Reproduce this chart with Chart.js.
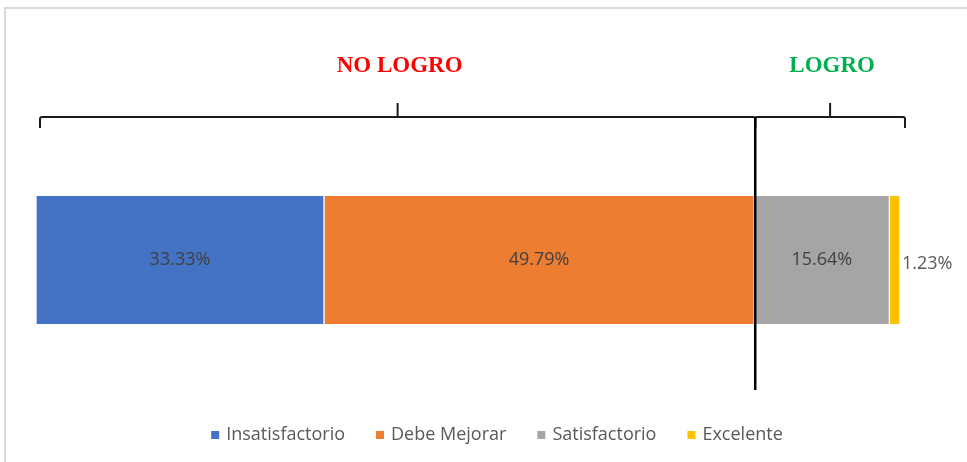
<!DOCTYPE html>
<html>
<head>
<meta charset="utf-8">
<script src="https://cdn.jsdelivr.net/npm/chart.js@4/dist/chart.umd.min.js"></script>
<style>
  html, body { margin: 0; padding: 0; background: #ffffff; }
  #wrap { position: relative; width: 967px; height: 462px; }
  canvas { display: block; }
</style>
</head>
<body>
<div id="wrap"><canvas id="chart" width="967" height="462"></canvas></div>
<script>
// Single stacked bar: share of students per achievement level
const categories = ['Nivel de logro'];
const seriesLabels = ['Insatisfactorio', 'Debe Mejorar', 'Satisfactorio', 'Excelente'];
const seriesValues = [33.33, 49.79, 15.64, 1.23];
const seriesColors = ['#4472C4', '#ED7D31', '#A5A5A5', '#FFC000'];
// Grouping of the levels: first two = "NO LOGRO", last two = "LOGRO"
const groupLabels = ['NO LOGRO', 'LOGRO'];
const groupColors = ['#FF0000', '#00B050'];
const groupSizes = [2, 2];

const total = seriesValues.reduce((a, b) => a + b, 0);
const pct = v => v.toFixed(2) + '%';

const overlay = {
  id: 'overlay',
  beforeDraw(chart) {
    const ctx = chart.ctx;
    ctx.save();
    ctx.strokeStyle = '#d9d9d9';
    ctx.lineWidth = 2;
    ctx.beginPath();
    ctx.moveTo(5, chart.height);
    ctx.lineTo(5, 8);
    ctx.lineTo(chart.width, 8);
    ctx.stroke();
    ctx.restore();
  },
  afterDatasetsDraw(chart) {
    const ctx = chart.ctx;
    const xs = chart.scales.x;
    const area = chart.chartArea;
    ctx.save();

    // value labels
    chart.data.datasets.forEach((ds, i) => {
      const meta = chart.getDatasetMeta(i);
      meta.data.forEach((bar, j) => {
        const v = ds.data[j];
        const left = Math.min(bar.x, bar.base), right = Math.max(bar.x, bar.base);
        ctx.font = '18px "Open Sans", sans-serif';
        ctx.textBaseline = 'middle';
        if (right - left > 60) {
          ctx.fillStyle = '#404040';
          ctx.textAlign = 'center';
          ctx.fillText(pct(v), (left + right) / 2, bar.y);
        } else {
          ctx.fillStyle = '#595959';
          ctx.textAlign = 'left';
          ctx.fillText(pct(v), right + 2, bar.y + 4);
        }
      });
    });

    // group brackets and headings
    const yLine = 117, yTick = 103, yEnd = 128;
    let cum = 0, idx = 0;
    const bounds = [];
    groupSizes.forEach((n, g) => {
      const start = cum;
      for (let k = 0; k < n; k++) cum += seriesValues[idx++];
      bounds.push([start, cum]);
    });
    ctx.strokeStyle = '#1a1a1a';
    ctx.lineWidth = 2;
    bounds.forEach(([a, b], g) => {
      const x0 = xs.getPixelForValue(a) + (g === 0 ? 4 : 1);
      const x1 = xs.getPixelForValue(b) + (g === 0 ? 1 : 5);
      const mid = (x0 + x1) / 2;
      ctx.beginPath();
      ctx.moveTo(x0, yEnd);
      ctx.lineTo(x0, yLine + 2);
      ctx.quadraticCurveTo(x0, yLine, x0 + 2, yLine);
      ctx.lineTo(x1 - 2, yLine);
      ctx.quadraticCurveTo(x1, yLine, x1, yLine + 2);
      ctx.lineTo(x1, yEnd);
      ctx.moveTo(mid, yLine);
      ctx.lineTo(mid, yTick);
      ctx.stroke();

      ctx.font = 'bold 23px "Liberation Serif", serif';
      ctx.fillStyle = groupColors[g];
      ctx.textAlign = 'center';
      ctx.textBaseline = 'alphabetic';
      ctx.fillText(groupLabels[g], mid + 2, 72);
    });

    // divider between the two groups
    const xd = xs.getPixelForValue(bounds[0][1]) + 1;
    ctx.strokeStyle = '#000000';
    ctx.lineWidth = 2.5;
    ctx.beginPath();
    ctx.moveTo(xd, yLine);
    ctx.lineTo(xd, 390);
    ctx.stroke();

    // legend
    ctx.font = '18px "Open Sans", sans-serif';
    const box = 8, gapText = 7, gapItem = 31;
    const widths = seriesLabels.map(s => ctx.measureText(s).width);
    const totalW = widths.reduce((a, w) => a + box + gapText + w, 0) + gapItem * (seriesLabels.length - 1);
    let x = 497 - totalW / 2;
    const yL = 435;
    ctx.textAlign = 'left';
    ctx.textBaseline = 'middle';
    seriesLabels.forEach((s, i) => {
      ctx.fillStyle = seriesColors[i];
      ctx.fillRect(x, yL - box / 2, box, box);
      ctx.fillStyle = '#595959';
      ctx.fillText(s, x + box + gapText, yL);
      x += box + gapText + widths[i] + gapItem;
    });
    ctx.restore();
  }
};

new Chart(document.getElementById('chart'), {
  type: 'bar',
  data: {
    labels: categories,
    datasets: seriesLabels.map((label, i) => ({
      label,
      data: [seriesValues[i]],
      backgroundColor: seriesColors[i],
      borderColor: '#ffffff',
      borderWidth: { left: 1, right: 1, top: 0, bottom: 0 },
      borderSkipped: false,
      categoryPercentage: 1,
      barPercentage: 1
    }))
  },
  options: {
    indexAxis: 'y',
    responsive: false,
    animation: false,
    layout: { padding: { left: 36, right: 67, top: 196, bottom: 138 } },
    scales: {
      x: { stacked: true, min: 0, max: total, display: false },
      y: { stacked: true, display: false }
    },
    plugins: {
      legend: { display: false },
      tooltip: { enabled: false }
    }
  },
  plugins: [overlay]
});
</script>
</body>
</html>
